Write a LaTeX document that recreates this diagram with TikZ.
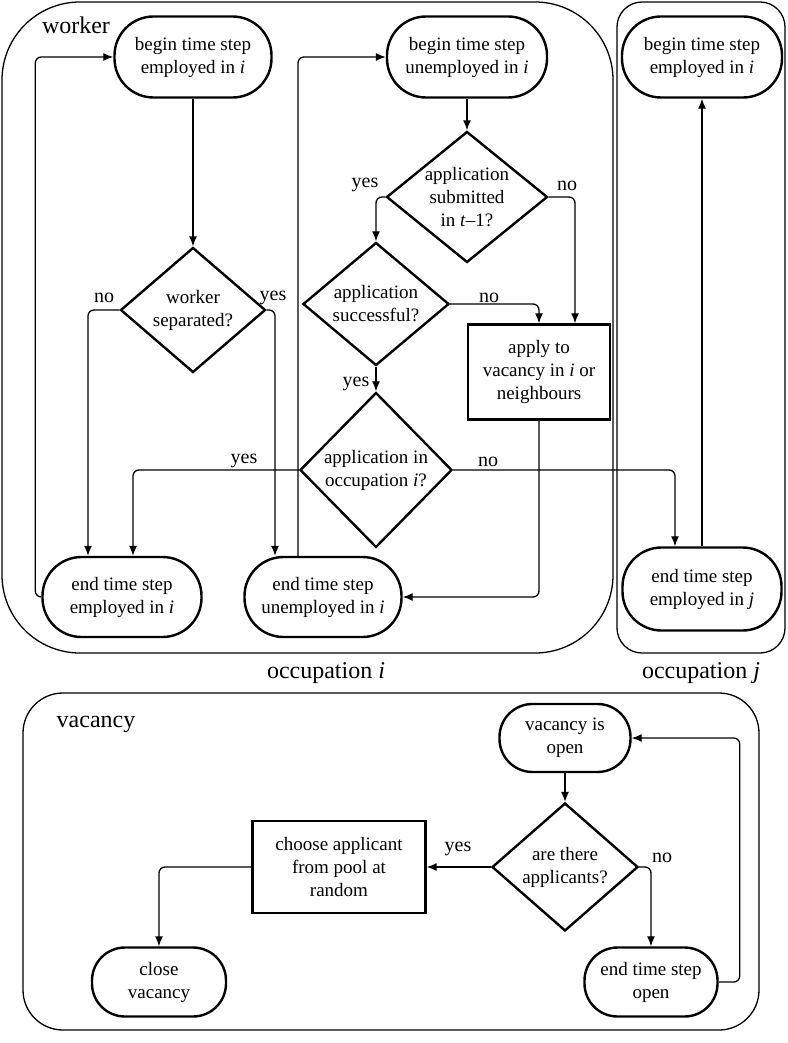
\documentclass[tikz,border=0pt]{standalone}
\usepackage{fontspec}
\setmainfont{Liberation Serif}
\usetikzlibrary{shapes.geometric,arrows.meta}

\begin{document}
\begin{tikzpicture}[x=1pt,y=-1pt,
  every node/.style={font=\fontsize{19}{23}\selectfont},
  term/.style={draw,rectangle,rounded corners=39pt,line width=2.4pt,align=center,inner sep=2pt},
  dia/.style={draw,diamond,aspect=1,inner sep=0pt,line width=2.4pt,align=center},
  proc/.style={draw,rectangle,line width=2.4pt,align=center,inner sep=2pt},
  box/.style={draw,line width=1.3pt},
  arr/.style={-{Latex[length=10pt,width=8pt]},line width=1.3pt,rounded corners=6pt},
  lbl/.style={font=\fontsize{20}{24}\selectfont,anchor=base,inner sep=0pt},
  title/.style={font=\fontsize{24}{28}\selectfont,anchor=base,inner sep=0pt}]
\useasboundingbox (0,0) rectangle (787,1043);

\draw[box,rounded corners=78pt] (2,2) rectangle (613,653);
\draw[box,rounded corners=25pt] (617,2) rectangle (785,653);
\draw[box,rounded corners=40pt] (23,693) rectangle (759,1030);

\node[title](worker) at (76,34){worker};
\node[title](occi) at (326,678){occupation \textit{i}};
\node[title](occj) at (701,678){occupation \textit{j}};
\node[title](vac) at (96,727){vacancy};

\node[term,minimum width=157pt,minimum height=81pt](beginEmp) at (193,57){begin time step\\employed in \textit{i}};
\node[term,minimum width=160pt,minimum height=81pt](beginUnemp) at (467,57){begin time step\\unemployed in \textit{i}};
\node[term,minimum width=160pt,minimum height=81pt](beginJ) at (702,57){begin time step\\employed in \textit{i}};
\node[dia,minimum width=145pt,minimum height=125pt](sep) at (193,310){worker\\separated?};
\node[dia,aspect=1.23,minimum width=161pt,minimum height=131pt](submitted) at (467,197){application\\submitted\\in \textit{t}--1?};
\node[dia,minimum width=146pt,minimum height=123pt](success) at (376,304){application\\successful?};
\node[dia,minimum width=152pt,minimum height=155pt](inocc) at (376,470){application in\\occupation \textit{i}?};
\node[proc,minimum width=142pt,minimum height=95pt](apply) at (539,372){apply to\\vacancy in \textit{i} or\\neighbours};
\node[term,minimum width=159pt,minimum height=80pt](endEmp) at (122,597){end time step\\employed in \textit{i}};
\node[term,minimum width=157pt,minimum height=80pt](endUnemp) at (323,597){end time step\\unemployed in \textit{i}};
\node[term,minimum width=159pt,minimum height=83pt](endJ) at (702,589){end time step\\employed in \textit{j}};

\draw[arr] (beginEmp) -- (sep);
\draw[arr] (sep.west) -| ([xshift=-34pt]endEmp.north);
\draw[arr] (sep.east) -| ([xshift=-48pt]endUnemp.north);
\draw[arr] (endEmp.west) -- ++(-6,0) |- (beginEmp.west);
\draw[arr] ([xshift=-25pt]endUnemp.north) |- (beginUnemp.west);
\draw[arr] (beginUnemp) -- (submitted);
\draw[arr] (submitted.west) -| (success.north);
\draw[arr] (submitted.east) -| ([xshift=36pt]apply.north);
\draw[arr] (success.east) -| (apply.north);
\draw[arr] (success) -- (inocc);
\draw[arr] (inocc.west) -| ([xshift=11pt]endEmp.north);
\draw[arr] (inocc.east) -| ([xshift=-27pt]endJ.north);
\draw[arr] (apply.south) |- (endUnemp.east);
\draw[arr] (endJ) -- (beginJ);

\node[lbl](sepno) at (104,302){no};
\node[lbl](sepyes) at (273,300){yes};
\node[lbl](subyes) at (365,188){yes};
\node[lbl](subno) at (567,190){no};
\node[lbl](sucno) at (489,302){no};
\node[lbl](sucyes) at (356,386){yes};
\node[lbl](inyes) at (244,463){yes};
\node[lbl](inno) at (488,466){no};

\node[term,minimum width=131pt,minimum height=68pt,rounded corners=33pt](open) at (565,738){vacancy is\\open};
\node[dia,minimum width=146pt,minimum height=128pt](applicants) at (565,867){are there\\applicants?};
\node[proc,minimum width=173pt,minimum height=92pt](choose) at (339,867){choose applicant\\from pool at\\random};
\node[term,minimum width=134pt,minimum height=69pt,rounded corners=33pt](close) at (159,982){close\\vacancy};
\node[term,minimum width=133pt,minimum height=69pt,rounded corners=33pt](endOpen) at (651,982){end time step\\open};

\draw[arr] (open) -- (applicants);
\draw[arr] (applicants) -- (choose);
\draw[arr] (applicants.east) -| (endOpen.north);
\draw[arr] (endOpen.east) -- ++(21,0) |- (open.east);
\draw[arr] (choose.west) -| (close.north);

\node[lbl](vacyes) at (458,851){yes};
\node[lbl](vacno) at (662,862){no};
\end{tikzpicture}
\end{document}
